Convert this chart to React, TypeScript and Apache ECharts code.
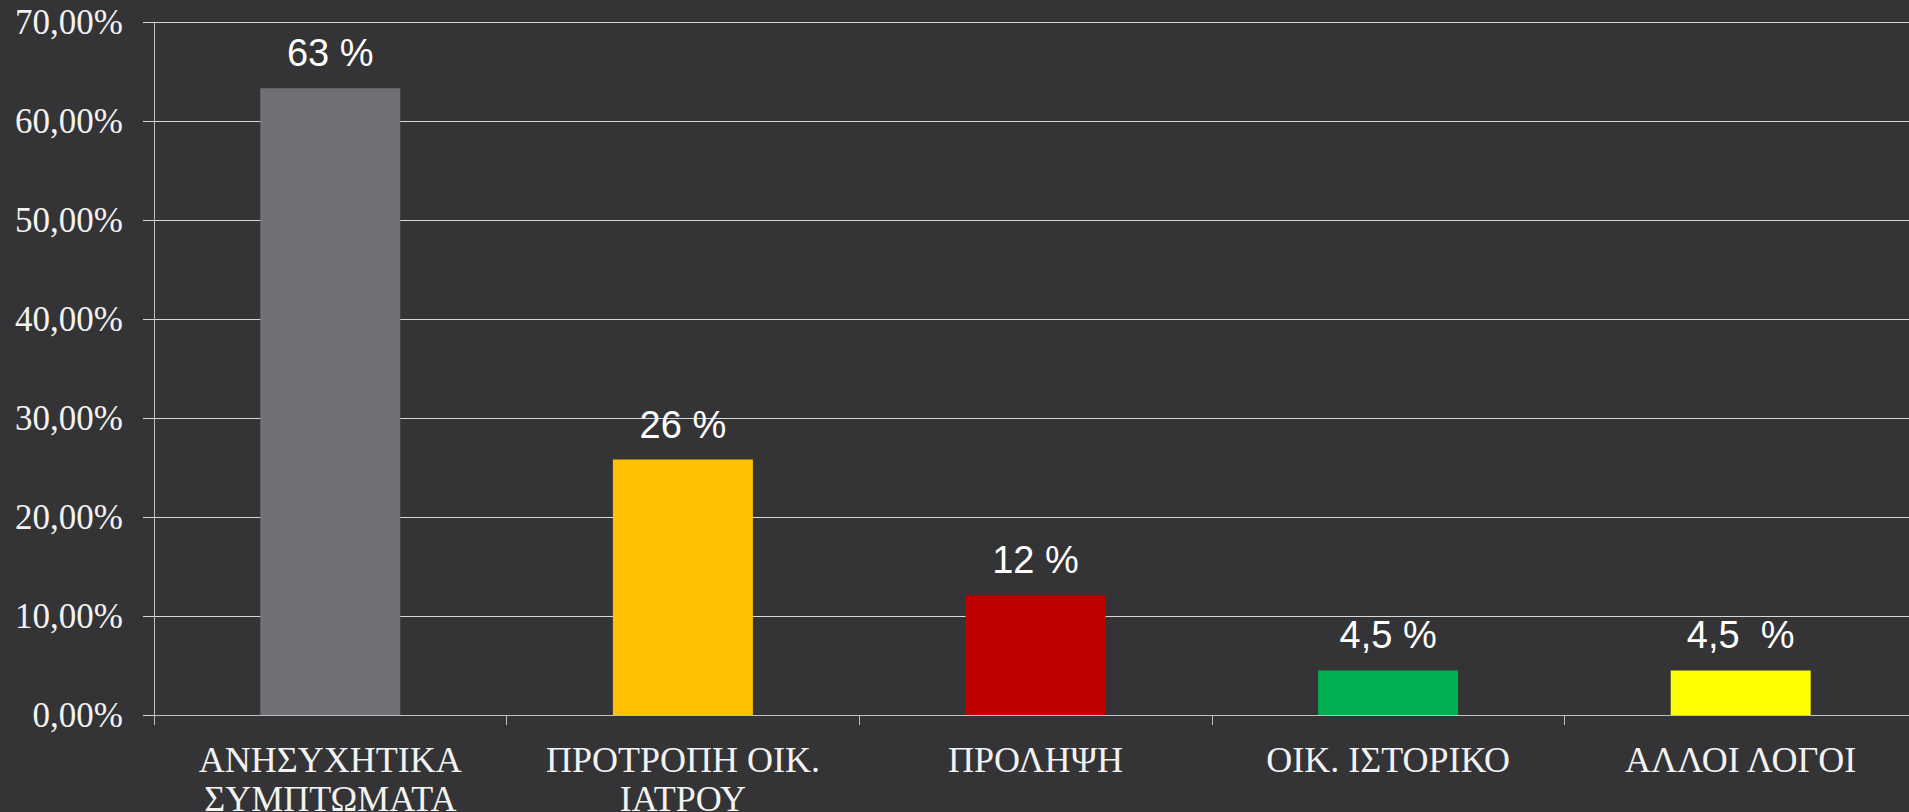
import React, { useEffect, useRef } from "react";
import * as echarts from "echarts";

const categories = [
  "ΑΝΗΣΥΧΗΤΙΚΑ\nΣΥΜΠΤΩΜΑΤΑ",
  "ΠΡΟΤΡΟΠΗ ΟΙΚ.\nΙΑΤΡΟΥ",
  "ΠΡΟΛΗΨΗ",
  "ΟΙΚ. ΙΣΤΟΡΙΚΟ",
  "ΑΛΛΟΙ ΛΟΓΟΙ",
];
const values = [63.3, 25.8, 12.1, 4.5, 4.5];
const valueLabels = ["63 %", "26 %", "12 %", "4,5 %", "4,5  %"];
const barColors = ["#717075", "#FFC000", "#C00000", "#00B050", "#FFFF00"];
const yMin = 0;
const yMax = 70;
const yInterval = 10;

export default function App() {
  const ref = useRef<HTMLDivElement>(null);
  useEffect(() => {
    if (!ref.current) return;
    const chart = echarts.init(ref.current, null, { renderer: "svg" });
    chart.setOption({
      animation: false,
      backgroundColor: "#343436",
      grid: {
        left: 154,
        right: 3,
        top: 22,
        bottom: 97,
        containLabel: false,
        outerBoundsMode: "none",
      },
      xAxis: {
        type: "category",
        data: categories,
        axisLine: { show: true, lineStyle: { color: "#bfbfbf", width: 1 } },
        axisTick: { show: true, length: 10, lineStyle: { color: "#bfbfbf" } },
        axisLabel: {
          color: "#f2f2f2",
          fontFamily: "Liberation Serif",
          fontSize: 36,
          lineHeight: 39,
          margin: 25,
          interval: 0,
        },
      },
      yAxis: {
        type: "value",
        min: yMin,
        max: yMax,
        interval: yInterval,
        axisLine: { show: true, lineStyle: { color: "#bfbfbf", width: 1 } },
        axisTick: { show: true, length: 11, lineStyle: { color: "#d9d9d9" } },
        splitLine: { show: true, lineStyle: { color: "#d9d9d9", width: 1 } },
        axisLabel: {
          color: "#f2f2f2",
          fontFamily: "Liberation Serif",
          fontSize: 35,
          margin: 31,
          formatter: (v: number) => v.toFixed(2).replace(".", ",") + "%",
        },
      },
      series: [
        {
          type: "bar",
          barWidth: 140,
          data: values.map((v, i) => ({
            value: v,
            itemStyle: { color: barColors[i] },
            label: { formatter: valueLabels[i] },
          })),
          label: {
            show: true,
            position: "top",
            distance: 16,
            color: "#ffffff",
            fontFamily: "Liberation Sans",
            fontSize: 38,
          },
        },
      ],
    });
    return () => chart.dispose();
  }, []);
  return (
    <div
      style={{
        position: "fixed",
        left: 0,
        top: 0,
        width: 1909,
        height: 812,
        overflow: "hidden",
        background: "#343436",
      }}
    >
      <div ref={ref} style={{ width: 1920, height: 812 }} />
    </div>
  );
}
